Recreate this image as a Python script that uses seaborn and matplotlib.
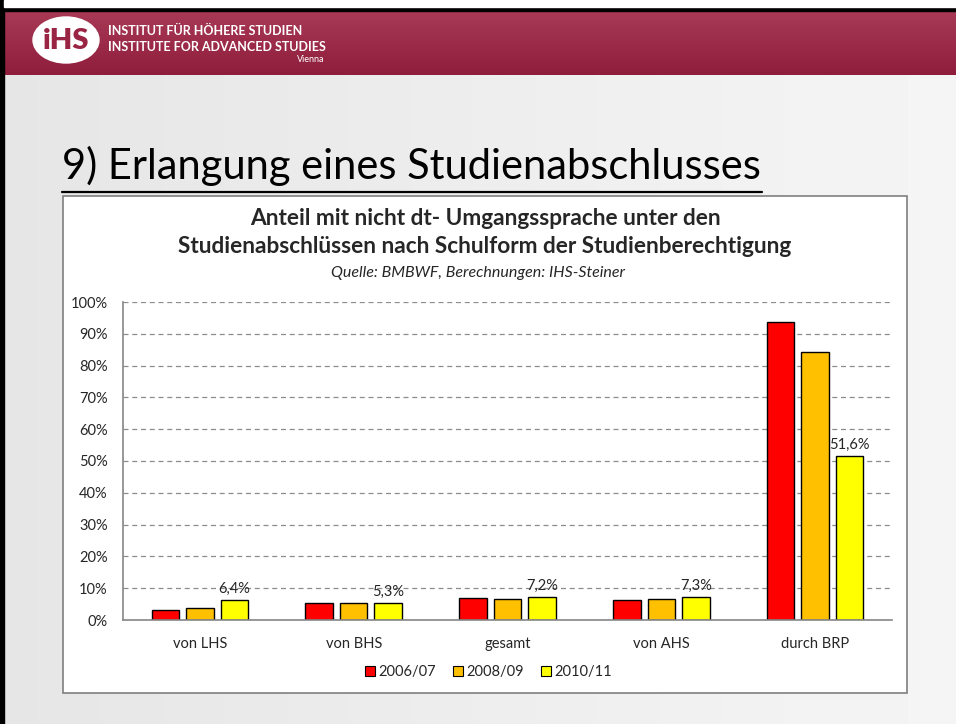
import numpy as np
import pandas as pd
import seaborn as sns
import matplotlib.pyplot as plt
from matplotlib.patches import Rectangle, Ellipse
from matplotlib.lines import Line2D

# Data (share in %)
categories = ["von LHS", "von BHS", "gesamt", "von AHS", "durch BRP"]
periods = ["2006/07", "2008/09", "2010/11"]
v_2006 = [3.1, 5.2, 6.8, 6.2, 93.6]
v_2008 = [3.9, 5.2, 6.6, 6.6, 84.2]
v_2010 = [6.4, 5.3, 7.2, 7.3, 51.6]
colors = ["#FF0000", "#FFC000", "#FFFF00"]

df = pd.DataFrame({
    "cat": categories * 3,
    "period": np.repeat(periods, len(categories)),
    "val": v_2006 + v_2008 + v_2010,
})

sns.set_style("white")
plt.rcParams['font.family'] = ['Lato', 'DejaVu Sans']

W, H = 956, 724
fig = plt.figure(figsize=(W / 100, H / 100), dpi=100)


def fx(x):
    return x / W


def fy(y):
    return 1 - y / H


# slide background (washed-out photo look)
bg = fig.add_axes([0, 0, 1, 1], zorder=-10)
grad = 0.90 + 0.06 * np.linspace(0, 1, 200)[None, :] * np.ones((100, 1))
bg.imshow(grad, cmap="gray", vmin=0, vmax=1, aspect="auto", extent=[0, 1, 0, 1])
bg.set_axis_off()

# black frame
fig.add_artist(Rectangle((0, 0), fx(4), 1, transform=fig.transFigure, color="black"))
fig.add_artist(Rectangle((0, fy(11)), 1, fy(7) - fy(11), transform=fig.transFigure, color="black"))
fig.add_artist(Rectangle((fx(4), fy(7)), 1, 1 - fy(7), transform=fig.transFigure, color="white"))

# header bar
hdr = fig.add_axes([fx(4), fy(75), 1 - fx(4), fy(11) - fy(75)], zorder=-5)
hgrad = np.linspace(0, 1, 50)[:, None] * np.ones((1, 10))
hdr.imshow(hgrad, cmap=sns.blend_palette(["#a83a56", "#8f1d3c"], as_cmap=True),
           aspect="auto", extent=[0, 1, 0, 1])
hdr.set_axis_off()

fig.add_artist(Ellipse((fx(66), fy(40)), fx(66), 1 - fy(46), transform=fig.transFigure,
                       color="white"))
fig.text(fx(66), fy(41), "iHS", color="#9a2443", fontsize=21, fontweight="heavy",
         ha="center", va="center")
fig.text(fx(108), fy(31), "INSTITUT FÜR HÖHERE STUDIEN", color="white", fontsize=9,
         fontweight="bold", va="center")
fig.text(fx(108), fy(47), "INSTITUTE FOR ADVANCED STUDIES", color="white", fontsize=9,
         fontweight="bold", va="center")
fig.text(fx(324), fy(60), "Vienna", color="white", fontsize=6.5, va="center", ha="right")

# slide title
fig.text(fx(62), fy(166), "9) Erlangung eines Studienabschlusses", fontsize=30,
         va="center", ha="left", color="black")
fig.add_artist(Line2D([fx(62), fx(762)], [fy(192), fy(192)], transform=fig.transFigure,
                      color="black", linewidth=1.6))

# chart box
fig.add_artist(Rectangle((fx(63), fy(693)), fx(907) - fx(63), fy(196) - fy(693),
                         transform=fig.transFigure, facecolor="white",
                         edgecolor="#7f7f7f", linewidth=1.2, zorder=0.5))

fig.text(fx(485), fy(218), "Anteil mit nicht dt- Umgangssprache unter den",
         fontsize=16.3, fontweight="bold", ha="center", va="center")
fig.text(fx(485), fy(247), "Studienabschlüssen nach Schulform der Studienberechtigung",
         fontsize=16.3, fontweight="bold", ha="center", va="center")
fig.text(fx(478), fy(273), "Quelle: BMBWF, Berechnungen: IHS-Steiner",
         fontsize=11.5, fontstyle="italic", ha="center", va="center")

# bar chart
ax = fig.add_axes([fx(123), fy(620), fx(892) - fx(123), fy(302) - fy(620)], zorder=2)
ax.patch.set_alpha(0)
sns.barplot(data=df, x="cat", y="val", hue="period", palette=colors, width=0.672,
            gap=0.2, saturation=1, edgecolor="black", linewidth=1, ax=ax, legend=False)

ax.set_ylim(0, 100)
ax.set_yticks(np.arange(0, 101, 10))
ax.set_yticklabels([f"{t}%" for t in range(0, 101, 10)])
ax.yaxis.grid(True, linestyle=(0, (4, 3)), color="#8c8c8c", linewidth=0.9)
ax.set_axisbelow(True)
ax.set_xlabel("")
ax.set_ylabel("")
for s in ["top", "right"]:
    ax.spines[s].set_visible(False)
for s in ["left", "bottom"]:
    ax.spines[s].set_color("#868686")
    ax.spines[s].set_linewidth(1.2)
ax.tick_params(axis="y", length=0, pad=11, labelsize=10.5)
ax.tick_params(axis="x", length=0, pad=12, labelsize=10.5)

labels = [f"{v:.1f}%".replace(".", ",") for v in v_2010]
ax.bar_label(ax.containers[2], labels=labels, padding=3, fontsize=10.5)

handles = [Rectangle((0, 0), 1, 1, facecolor=c, edgecolor="black", linewidth=0.8)
           for c in colors]
ax.legend(handles, periods, loc="center", bbox_to_anchor=(0.475, -0.165), ncol=3,
          frameon=False, fontsize=10.5, handlelength=0.7, handleheight=0.7,
          handletextpad=0.2, columnspacing=1.2)

fig.savefig("out.png", dpi=100)
